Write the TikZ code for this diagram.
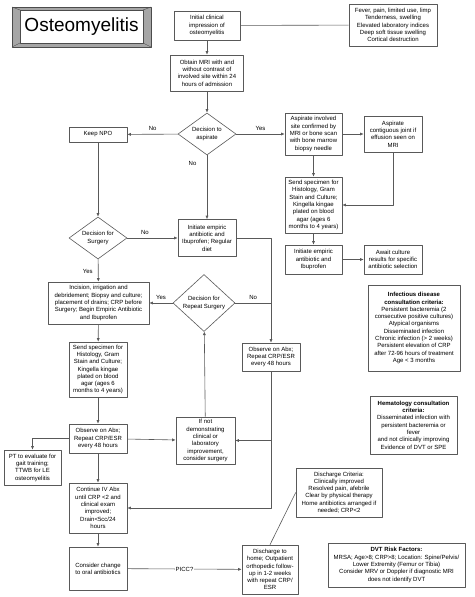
\documentclass[tikz,border=0pt]{standalone}
\usepackage{fontspec}
\setmainfont{Liberation Sans}
\usetikzlibrary{shapes.geometric,arrows.meta}
\begin{document}
\begin{tikzpicture}[x=1pt,y=-1pt,line join=round,>={Latex[length=3.5pt,width=3pt]},
  font=\fontsize{6}{7.3}\selectfont]
\tikzset{box/.style 2 args={draw=black!65,line width=.6pt,fill=white,align=center,inner sep=1pt,minimum width=#1,minimum height=#2},
  dec/.style 2 args={draw=black!65,line width=.6pt,fill=white,diamond,shape aspect=1.4,inner sep=0pt,align=center,minimum width=#1,minimum height=#2},
  link/.style={draw=black!65,line width=.6pt}}
\useasboundingbox (0,0) rectangle (474,597);
% title frame
\filldraw[draw=black!70,fill=black!35] (12,7) rectangle (151,47);
\filldraw[draw=black!70,fill=white] (20,10) rectangle (143,43);
\draw[black!70] (12,7)--(20,10) (151,7)--(143,10) (12,47)--(20,43) (151,47)--(143,43);
\node[font=\fontsize{19}{19}\selectfont] (title) at (81.5,27) {Osteomyelitis};
% top column
\node[box={66}{29}] (init) at (207,25.5) {Initial clinical\\impression of\\osteomyelitis};
\node[box={88}{42}] (fever) at (393,25) {Fever, pain, limited use, limp\\Tenderness, swelling\\Elevated laboratory indices\\Deep soft tissue swelling\\Cortical destruction};
\node[box={73}{36}] (mri) at (207,73) {Obtain MRI with and\\without contrast of\\involved site within 24\\hours of admission};
\node[dec={58}{42}] (asp) at (207,134) {Decision to\\aspirate};
\node[box={58}{15}] (npo) at (98,134.5) {Keep NPO};
% aspirate branch
\node[box={57}{42}] (aspsite) at (313.5,134) {Aspirate involved\\site confirmed by\\MRI or bone scan\\with bone marrow\\biopsy needle};
\node[box={58}{36}] (joint) at (393,134) {Aspirate\\contiguous joint if\\effusion seen on\\MRI};
\node[box={57}{56}] (specR) at (313.5,205) {Send specimen for\\Histology, Gram\\Stain and Culture;\\Kingella kingae\\plated on blood\\agar (ages 6\\months to 4 years)};
\node[box={57}{29}] (empR) at (313.5,259.5) {Initiate empiric\\antibiotic and\\Ibuprofen};
\node[box={58}{29}] (await) at (393,259.5) {Await culture\\results for specific\\antibiotic selection};
% middle
\node[box={58}{37}] (empM) at (207,238) {Initiate empiric\\antibiotic and\\Ibuprofen; Regular\\diet};
\node[dec={58}{42}] (surg) at (98,238) {Decision for\\Surgery};
\node[box={101}{42}] (incis) at (98.5,303) {Incision, irrigation and\\debridement; Biopsy and culture;\\placement of drains; CRP before\\Surgery; Begin Empiric Antibiotic\\and Ibuprofen};
\node[dec={62}{57}] (rep) at (204,303) {Decision for\\Repeat Surgery};
\node[box={58}{28}] (obsR) at (271,357) {Observe on Abx;\\Repeat CRP/ESR\\every 48 hours};
\node[box={58}{55}] (specL) at (98,369.5) {Send specimen for\\Histology, Gram\\Stain and Culture;\\Kingella kingae\\plated on blood\\agar (ages 6\\months to 4 years)};
\node[box={58}{29}] (obsL) at (98,438.5) {Observe on Abx;\\Repeat CRP/ESR\\every 48 hours};
\node[box={59}{47}] (ifnot) at (205.5,440.5) {If not\\demonstrating\\clinical or\\laboratory\\improvement,\\consider surgery};
\node[box={57}{35}] (pt) at (32.5,467.5) {PT to evaluate for\\gait training;\\TTWB for LE\\osteomyelitis};
\node[box={58}{50}] (cont) at (98,508) {Continue IV Abx\\until CRP <2 and\\clinical exam\\improved;\\Drain<5cc/24\\hours};
\node[box={58}{43}] (cons) at (98,568.5) {Consider change\\to oral antibiotics};
\node[box={56}{49}] (disch) at (270,569.5) {Discharge to\\home; Outpatient\\orthopedic follow-\\up in 1-2 weeks\\with repeat CRP/\\ESR};
\node[box={86}{49}] (crit) at (339,492.5) {Discharge Criteria:\\Clinically improved\\Resolved pain, afebrile\\Clear by physical therapy\\Home antibiotics arranged if\\needed; CRP<2};
% criteria boxes
\node[box={92}{86}] (idc) at (414,328) {\textbf{Infectious disease}\\\textbf{consultation criteria:}\\Persistent bacteremia (2\\consecutive positive cultures)\\Atypical organisms\\Disseminated infection\\Chronic infection (> 2 weeks)\\Persistent elevation of CRP\\after 72-96 hours of treatment\\Age < 3 months};
\node[box={87}{58}] (hema) at (413.5,425) {\textbf{Hematology consultation}\\\textbf{criteria:}\\Disseminated infection with\\persistent bacteremia or\\fever\\and not clinically improving\\Evidence of DVT or SPE};
\node[box={137}{44}] (dvt) at (396.5,565) {\textbf{DVT Risk Factors:}\\MRSA; Age>8; CRP>8; Location: Spine/Pelvis/\\Lower Extremity (Femur or Tibia)\\Consider MRV or Doppler if diagnostic MRI\\does not identify DVT};
% connectors
\draw[link] (init) -- (fever);
\draw[link,->] (init) -- (mri);
\draw[link,->] (mri) -- (asp);
\draw[link,->] (asp) -- node[above] {No} (npo);
\draw[link,->] (asp) -- node[pos=.12,left=7pt] {No} (empM);
\draw[link,->] (asp) -- node[above] {Yes} (aspsite);
\draw[link,->] (aspsite) -- (joint);
\draw[link,->] (aspsite) -- (specR);
\draw[link,->] (joint.south) |- (specR.east);
\draw[link,->] (specR) -- (empR);
\draw[link,->] (empR) -- (await);
\draw[link,->] (npo) -- (surg);
\draw[link,->] (surg) -- node[pos=.35,above] {No} (empM);
\draw[link,->] (surg) -- node[pos=.55,left=2pt] {Yes} (incis);
\draw[link,->] (empM.east) -| (obsR.north);
\draw[link] (rep.east) -- node[above] {No} (rep.east -| obsR.north);
\draw[link,->] (rep) -- node[above] {Yes} (incis);
\draw[link,->] (incis) -- (specL);
\draw[link,->] (specL) -- (obsL);
\draw[link,->] (obsL) -- (ifnot);
\draw[link,->] (ifnot) -- (rep);
\draw[link,->] (obsL.west) -| (pt.north);
\draw[link,->] (obsL) -- (cont);
\draw[link,->] (obsR.south) |- (cont.east);
\draw[link,->] (obsR.south |- ifnot.east) -- (ifnot.east);
\draw[link,->] (cont) -- (cons);
\draw[link,->] (cons) -- node[fill=white,inner sep=.5pt] {PICC?} (disch);
\draw[link] (disch.north) -- (crit.west);
\end{tikzpicture}
\end{document}
